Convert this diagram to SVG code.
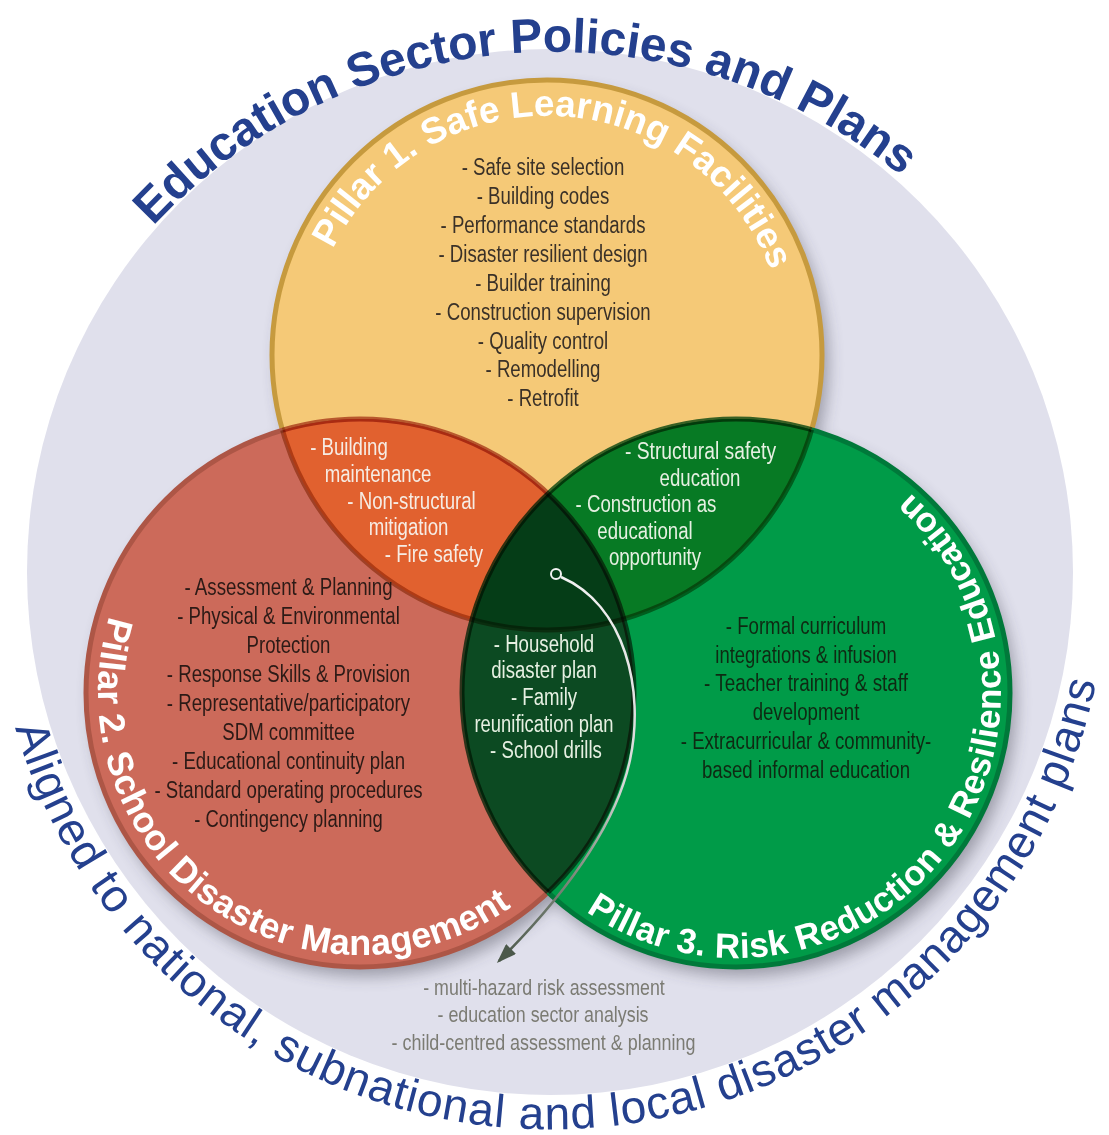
<svg xmlns="http://www.w3.org/2000/svg" xmlns:xlink="http://www.w3.org/1999/xlink" width="1109" height="1135" viewBox="0 0 1109 1135">
<style>
.title{font-family:"Liberation Sans",Arial,sans-serif;font-weight:bold;fill:#ffffff}
.arc{font-family:"Liberation Sans",Arial,sans-serif;fill:#24408e}
.it{font-family:"Liberation Sans",Arial,sans-serif;font-size:23px;text-anchor:middle}
.dk{fill:#3a3128}
.rd{fill:#2c1a16}
.gn{fill:#0e2a13}
.wt{fill:#f6ece4}
.wg{fill:#e6f0e2}
.gy{fill:#7b7b73;font-size:22px}
.ring{fill:none;stroke-width:5}
.mul{mix-blend-mode:multiply}
</style>
<defs>
<clipPath id="cY"><circle cx="547" cy="355" r="275"/></clipPath>
<clipPath id="cR"><circle cx="360" cy="693" r="274"/></clipPath>
<clipPath id="cRG"><circle cx="360" cy="693" r="274"/><circle cx="736" cy="693" r="274"/></clipPath>
<clipPath id="cYG"><circle cx="547" cy="355" r="275"/><circle cx="736" cy="693" r="274"/></clipPath>
<clipPath id="cYR"><circle cx="547" cy="355" r="275"/><circle cx="360" cy="693" r="274"/></clipPath>
<mask id="mY" maskUnits="userSpaceOnUse" x="0" y="0" width="1109" height="1135"><rect width="1109" height="1135" fill="#fff"/><circle cx="360" cy="693" r="274" fill="#000"/><circle cx="736" cy="693" r="274" fill="#000"/></mask>
<mask id="mR" maskUnits="userSpaceOnUse" x="0" y="0" width="1109" height="1135"><rect width="1109" height="1135" fill="#fff"/><circle cx="547" cy="355" r="275" fill="#000"/><circle cx="736" cy="693" r="274" fill="#000"/></mask>
<mask id="mG" maskUnits="userSpaceOnUse" x="0" y="0" width="1109" height="1135"><rect width="1109" height="1135" fill="#fff"/><circle cx="547" cy="355" r="275" fill="#000"/><circle cx="360" cy="693" r="274" fill="#000"/></mask>
<filter id="sh" x="-20%" y="-20%" width="140%" height="140%"><feGaussianBlur stdDeviation="8"/></filter>
<linearGradient id="lg" gradientUnits="userSpaceOnUse" x1="0" y1="570" x2="0" y2="962">
<stop offset="0" stop-color="#f2f2f2"/>
<stop offset="0.55" stop-color="#d6d6d6"/>
<stop offset="0.78" stop-color="#7f897d"/>
<stop offset="1" stop-color="#4b584a"/>
</linearGradient>
<marker id="ah" markerUnits="userSpaceOnUse" markerWidth="20" markerHeight="14" refX="17" refY="7" orient="auto">
<path d="M0,0 L20,7 L0,14 z" fill="#4b584a"/>
</marker>
<path id="pTop" d="M39,412.6 A548,548 0 0 1 1069,412.6"/>
<path id="pBot" d="M-4.9,620.6 A557,557 0 0 0 1104.9,620.6"/>
<path id="pY" d="M311.6,313.5 A239,239 0 0 1 782.4,313.5"/>
<path id="pR" d="M133.1,562 A262,262 0 0 0 560.7,861.4"/>
<path id="pG" d="M548.6,880.4 A265,265 0 1 0 868.5,463.5"/>
</defs>

<g id="outer">
<circle cx="550" cy="572" r="523" fill="#e0e0ec"/>
<text class="arc" font-size="48" font-weight="bold"><textPath xlink:href="#pTop" href="#pTop" startOffset="220" textLength="826">Education Sector Policies and Plans</textPath></text>
<text class="arc" font-size="46"><textPath xlink:href="#pBot" href="#pBot" startOffset="109" textLength="1482">Aligned to national, subnational and local disaster management plans</textPath></text>
</g>

<g id="shadow" filter="url(#sh)" opacity="0.4" transform="translate(6,9)">
<circle cx="547" cy="355" r="275" fill="#303040"/>
<circle cx="360" cy="693" r="274" fill="#303040"/>
<circle cx="736" cy="693" r="274" fill="#303040"/>
</g>

<g id="pillar1">
<circle cx="547" cy="355" r="275" fill="#f5c977"/>
</g>
<g id="pillar2">
<circle cx="360" cy="693" r="274" fill="#cc6a5a"/>
</g>
<g id="pillar3">
<circle cx="736" cy="693" r="274" fill="#009b48"/>
</g>

<g id="overlaps">
<circle cx="360" cy="693" r="274" fill="#e1612f" clip-path="url(#cY)"/>
<circle cx="736" cy="693" r="274" fill="#077a24" clip-path="url(#cY)"/>
<circle cx="736" cy="693" r="274" fill="#0c4a22" clip-path="url(#cR)"/>
<g clip-path="url(#cY)"><circle cx="736" cy="693" r="274" fill="#053d17" clip-path="url(#cR)"/></g>
</g>

<circle class="ring" cx="547" cy="355" r="275" stroke="#c69a3e" mask="url(#mY)"/>
<circle class="ring" cx="360" cy="693" r="274" stroke="#ad5646" mask="url(#mR)"/>
<circle class="ring" cx="736" cy="693" r="274" stroke="#00793a" mask="url(#mG)"/>
<circle class="ring mul" cx="547" cy="355" r="275" stroke="#c89a6a" clip-path="url(#cRG)"/>
<circle class="ring mul" cx="360" cy="693" r="274" stroke="#c07060" clip-path="url(#cYG)"/>
<circle class="ring mul" cx="736" cy="693" r="274" stroke="#3a7a4c" clip-path="url(#cYR)"/>

<g id="pillar1-text">
<text class="title" font-size="37"><textPath xlink:href="#pY" href="#pY" startOffset="68" textLength="555">Pillar 1. Safe Learning Facilities</textPath></text>
<text class="it dk" x="543" y="175" textLength="162.6" lengthAdjust="spacingAndGlyphs">- Safe site selection</text>
<text class="it dk" x="543" y="204" textLength="132.5" lengthAdjust="spacingAndGlyphs">- Building codes</text>
<text class="it dk" x="543" y="233" textLength="205" lengthAdjust="spacingAndGlyphs">- Performance standards</text>
<text class="it dk" x="543" y="262" textLength="209.1" lengthAdjust="spacingAndGlyphs">- Disaster resilient design</text>
<text class="it dk" x="543" y="291" textLength="135.6" lengthAdjust="spacingAndGlyphs">- Builder training</text>
<text class="it dk" x="543" y="320" textLength="215.3" lengthAdjust="spacingAndGlyphs">- Construction supervision</text>
<text class="it dk" x="543" y="349" textLength="130.4" lengthAdjust="spacingAndGlyphs">- Quality control</text>
<text class="it dk" x="543" y="377" textLength="114.9" lengthAdjust="spacingAndGlyphs">- Remodelling</text>
<text class="it dk" x="543" y="406" textLength="71.4" lengthAdjust="spacingAndGlyphs">- Retrofit</text>
</g>

<g id="pillar2-text">
<text class="title" font-size="36"><textPath xlink:href="#pR" href="#pR" startOffset="59" textLength="651">Pillar 2. School Disaster Management</textPath></text>
<text class="it rd" x="288.5" y="595" textLength="208.1" lengthAdjust="spacingAndGlyphs">- Assessment &amp; Planning</text>
<text class="it rd" x="288.5" y="624" textLength="222.6" lengthAdjust="spacingAndGlyphs">- Physical &amp; Environmental</text>
<text class="it rd" x="288.5" y="653" textLength="83.9" lengthAdjust="spacingAndGlyphs">Protection</text>
<text class="it rd" x="288.5" y="682" textLength="243.3" lengthAdjust="spacingAndGlyphs">- Response Skills &amp; Provision</text>
<text class="it rd" x="288.5" y="711" textLength="243.3" lengthAdjust="spacingAndGlyphs">- Representative/participatory</text>
<text class="it rd" x="288.5" y="740" textLength="132.5" lengthAdjust="spacingAndGlyphs">SDM committee</text>
<text class="it rd" x="288.5" y="769" textLength="233" lengthAdjust="spacingAndGlyphs">- Educational continuity plan</text>
<text class="it rd" x="288.5" y="798" textLength="268.2" lengthAdjust="spacingAndGlyphs">- Standard operating procedures</text>
<text class="it rd" x="288.5" y="827" textLength="188.7" lengthAdjust="spacingAndGlyphs">- Contingency planning</text>
</g>

<g id="pillar3-text">
<text class="title" font-size="35"><textPath xlink:href="#pG" href="#pG" startOffset="49" textLength="801">Pillar 3. Risk Reduction &amp; Resilience Education</textPath></text>
<text class="it gn" x="806" y="634" textLength="160.4" lengthAdjust="spacingAndGlyphs">- Formal curriculum</text>
<text class="it gn" x="806" y="663" textLength="181.4" lengthAdjust="spacingAndGlyphs">integrations &amp; infusion</text>
<text class="it gn" x="806" y="691" textLength="204" lengthAdjust="spacingAndGlyphs">- Teacher training &amp; staff</text>
<text class="it gn" x="806" y="720" textLength="106.7" lengthAdjust="spacingAndGlyphs">development</text>
<text class="it gn" x="806" y="749" textLength="250.5" lengthAdjust="spacingAndGlyphs">- Extracurricular &amp; community-</text>
<text class="it gn" x="806" y="778" textLength="208.1" lengthAdjust="spacingAndGlyphs">based informal education</text>
</g>

<g id="overlap-text">
<text class="it wt" x="349" y="455" textLength="77.6" lengthAdjust="spacingAndGlyphs">- Building</text>
<text class="it wt" x="378" y="482" textLength="106.7" lengthAdjust="spacingAndGlyphs">maintenance</text>
<text class="it wt" x="411.5" y="509" textLength="128.4" lengthAdjust="spacingAndGlyphs">- Non-structural</text>
<text class="it wt" x="408.5" y="535" textLength="79.7" lengthAdjust="spacingAndGlyphs">mitigation</text>
<text class="it wt" x="434" y="562" textLength="98.3" lengthAdjust="spacingAndGlyphs">- Fire safety</text>
<text class="it wg" x="700.5" y="459" textLength="151.2" lengthAdjust="spacingAndGlyphs">-  Structural safety</text>
<text class="it wg" x="700" y="486" textLength="80.8" lengthAdjust="spacingAndGlyphs">education</text>
<text class="it wg" x="646" y="512" textLength="140.8" lengthAdjust="spacingAndGlyphs">- Construction as</text>
<text class="it wg" x="645" y="539" textLength="95.3" lengthAdjust="spacingAndGlyphs">educational</text>
<text class="it wg" x="655" y="565" textLength="92.2" lengthAdjust="spacingAndGlyphs">opportunity</text>
<text class="it wg" x="544" y="652" textLength="100.4" lengthAdjust="spacingAndGlyphs">- Household</text>
<text class="it wg" x="544" y="678" textLength="105.6" lengthAdjust="spacingAndGlyphs">disaster plan</text>
<text class="it wg" x="544" y="705" textLength="66.2" lengthAdjust="spacingAndGlyphs">- Family</text>
<text class="it wg" x="544" y="732" textLength="139" lengthAdjust="spacingAndGlyphs">reunification plan</text>
<text class="it wg" x="546" y="758" textLength="111.8" lengthAdjust="spacingAndGlyphs">- School drills</text>
</g>

<g id="assessment">
<text class="it gy" x="544" y="995" textLength="241.6" lengthAdjust="spacingAndGlyphs">- multi-hazard risk assessment</text>
<text class="it gy" x="543" y="1022" textLength="211" lengthAdjust="spacingAndGlyphs">- education sector analysis</text>
<text class="it gy" x="543.5" y="1050" textLength="304" lengthAdjust="spacingAndGlyphs">- child-centred assessment &amp; planning</text>
</g>

<g id="connectors">
<path d="M561,577 C625,605 645,690 630,760 C615,830 560,900 499,961" fill="none" stroke="url(#lg)" stroke-width="2.5" marker-end="url(#ah)"/>
<circle cx="556" cy="574" r="5" fill="#053d17" stroke="#f2f2f2" stroke-width="2"/>
</g>
</svg>
